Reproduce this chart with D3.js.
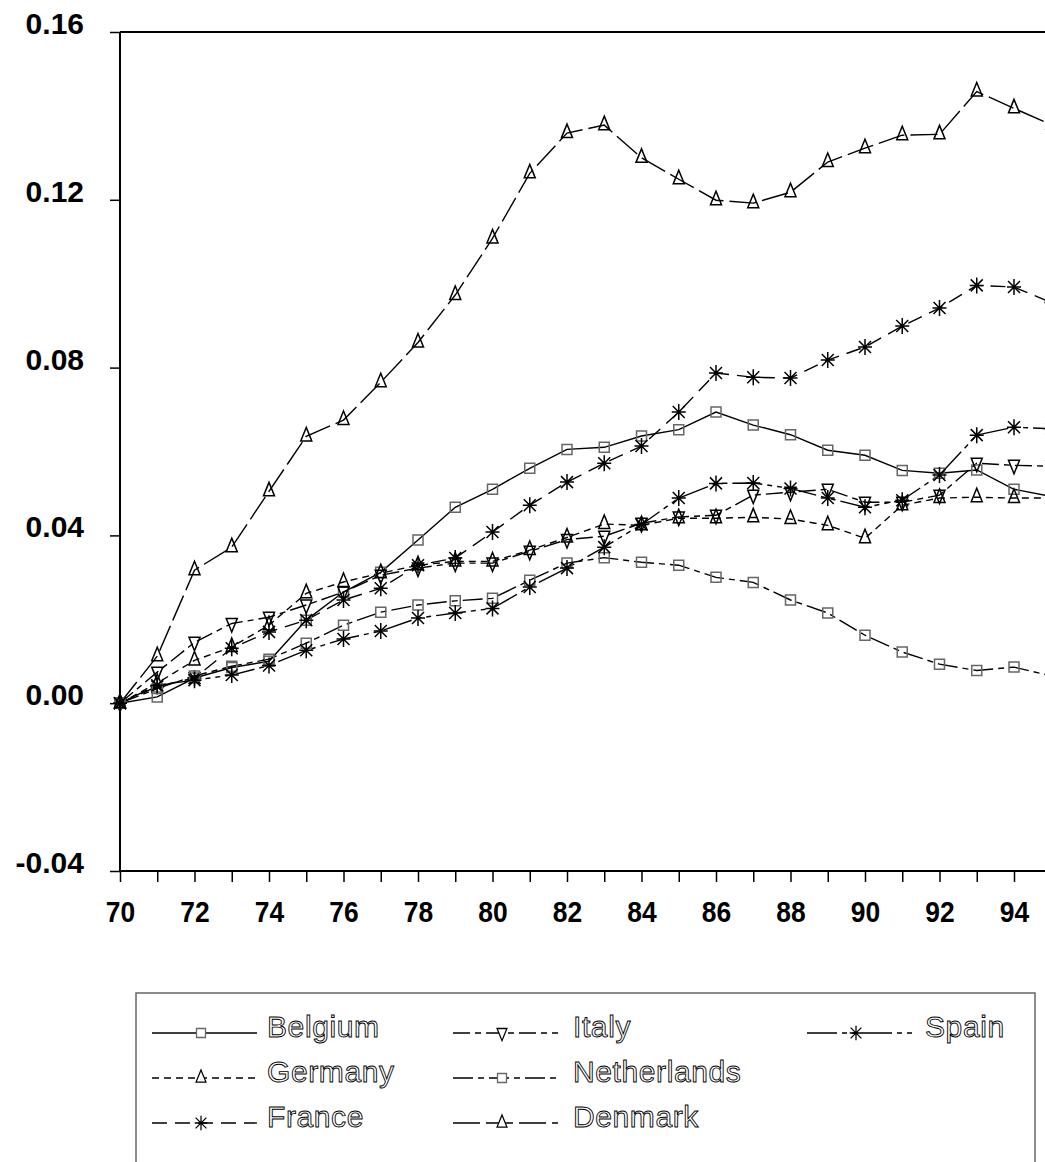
<!DOCTYPE html>
<html>
<head>
<meta charset="utf-8">
<script src="https://cdn.jsdelivr.net/npm/d3@7"></script>
<style>
  html, body { margin: 0; padding: 0; background: #fff; overflow: hidden; }
  svg { display: block; }
</style>
</head>
<body>
<svg id="chart" width="1045" height="1162"></svg>
<script>
// ---- data ----
const years = d3.range(70, 96);
const xTickLabels = ["70","72","74","76","78","80","82","84","86","88","90","92","94"];
const yTickValues = [-0.04, 0.00, 0.04, 0.08, 0.12, 0.16];
const yTickLabels = ["-0.04","0.00","0.04","0.08","0.12","0.16"];

const belgium     = [0, 0.0015, 0.0060, 0.0085, 0.0100, 0.0198, 0.0265, 0.0312, 0.0389, 0.0467, 0.0510, 0.0560, 0.0605, 0.0610, 0.0637, 0.0652, 0.0694, 0.0663, 0.0640, 0.0603, 0.0591, 0.0555, 0.0548, 0.0556, 0.0510, 0.0493];
const germany     = [0, 0.0048, 0.0102, 0.0134, 0.0186, 0.0262, 0.0289, 0.0310, 0.0329, 0.0338, 0.0338, 0.0365, 0.0395, 0.0427, 0.0424, 0.0441, 0.0441, 0.0443, 0.0439, 0.0424, 0.0393, 0.0472, 0.0489, 0.0491, 0.0489, 0.0489];
const france      = [0, 0.0040, 0.0060, 0.0131, 0.0170, 0.0198, 0.0246, 0.0274, 0.0329, 0.0346, 0.0408, 0.0472, 0.0527, 0.0572, 0.0613, 0.0694, 0.0787, 0.0777, 0.0775, 0.0818, 0.0849, 0.0899, 0.0942, 0.0996, 0.0992, 0.0955];
const italy       = [0, 0.0074, 0.0145, 0.0190, 0.0205, 0.0234, 0.0265, 0.0305, 0.0322, 0.0334, 0.0334, 0.0362, 0.0390, 0.0398, 0.0429, 0.0444, 0.0448, 0.0496, 0.0503, 0.0510, 0.0479, 0.0479, 0.0496, 0.0572, 0.0567, 0.0565];
const netherlands = [0, 0.0035, 0.0065, 0.0088, 0.0105, 0.0143, 0.0186, 0.0217, 0.0234, 0.0244, 0.0250, 0.0293, 0.0334, 0.0347, 0.0336, 0.0329, 0.0300, 0.0288, 0.0246, 0.0215, 0.0162, 0.0122, 0.0093, 0.0078, 0.0086, 0.0065];
const denmark     = [0, 0.0112, 0.0317, 0.0372, 0.0505, 0.0636, 0.0675, 0.0765, 0.0860, 0.0973, 0.1108, 0.1263, 0.1359, 0.1378, 0.1300, 0.1249, 0.1199, 0.1192, 0.1218, 0.1290, 0.1323, 0.1354, 0.1356, 0.1458, 0.1418, 0.1379];
const spain       = [0, 0.0043, 0.0055, 0.0067, 0.0090, 0.0126, 0.0153, 0.0172, 0.0203, 0.0215, 0.0226, 0.0277, 0.0322, 0.0372, 0.0426, 0.0489, 0.0524, 0.0525, 0.0512, 0.0489, 0.0467, 0.0484, 0.0544, 0.0639, 0.0658, 0.0654];

const seriesNames = ["Belgium","Germany","France","Italy","Netherlands","Denmark","Spain"];
const seriesValues = [belgium, germany, france, italy, netherlands, denmark, spain];

(function () {
const seriesStyle = {
  Belgium:     { dash: null,               marker: "square" },
  Germany:     { dash: "7,5",              marker: "up" },
  France:      { dash: "15,8",             marker: "star" },
  Italy:       { dash: "17,5,6,5",         marker: "down" },
  Netherlands: { dash: "20,5,6,5",         marker: "square" },
  Denmark:     { dash: "27,6",             marker: "up" },
  Spain:       { dash: "30,5,5,5,5,5",     marker: "star" }
};

const markerPaths = {
  square: "M-5,-5H5V5H-5Z",
  up: "M0,-9L5.5,4.5L-5.5,4.5Z",
  down: "M-5.5,-5L5.5,-5L0,8.5Z",
  star: "M0,-8V8M-7,0H7M-6,-6L6,6M-6,6L6,-6"
};

const svg = d3.select("#chart");
const mLeft = 120, mTop = 32, mBottom = 871;
const step = 37.25;

const x = d3.scaleLinear().domain([70, 96]).range([mLeft, mLeft + 26 * step]);
const y = d3.scaleLinear().domain([-0.04, 0.16]).range([mBottom, mTop]);

// frame
const g = svg.append("g");
g.append("line").attr("x1", mLeft).attr("x2", 1100).attr("y1", mTop).attr("y2", mTop)
  .attr("stroke", "#000").attr("stroke-width", 2);
g.append("line").attr("x1", mLeft).attr("x2", 1100).attr("y1", mBottom).attr("y2", mBottom)
  .attr("stroke", "#000").attr("stroke-width", 2);
g.append("line").attr("x1", mLeft).attr("x2", mLeft).attr("y1", mTop).attr("y2", mBottom)
  .attr("stroke", "#000").attr("stroke-width", 2);

// y axis
const yAxis = d3.axisLeft(y).tickValues(yTickValues).tickSize(10).tickPadding(26)
  .tickFormat((d, i) => yTickLabels[i]);
const yg = svg.append("g").attr("transform", `translate(${mLeft},0)`).call(yAxis);
yg.select(".domain").remove();
yg.selectAll(".tick line").attr("stroke", "#000").attr("stroke-width", 1.5);
yg.selectAll(".tick text")
  .attr("font-family", "'Liberation Sans', Arial, sans-serif")
  .attr("font-weight", "bold").attr("font-size", 30)
  .attr("fill", "#000")
  .attr("dy", "0.05em");

// x axis
const xAxis = d3.axisBottom(x).tickValues(years).tickSize(11).tickPadding(12)
  .tickFormat(d => (xTickLabels.indexOf(String(d)) >= 0 ? String(d) : ""));
const xg = svg.append("g").attr("transform", `translate(0,${mBottom})`).call(xAxis);
xg.select(".domain").remove();
xg.selectAll(".tick line").attr("stroke", "#000").attr("stroke-width", 1.5);
xg.selectAll(".tick text")
  .attr("font-family", "'Liberation Sans', Arial, sans-serif")
  .attr("font-weight", "bold").attr("font-size", 30)
  .attr("fill", "#000")
  .attr("dy", "0.95em")
  .attr("transform", "scale(0.88,1)");

// lines
const line = d3.line().x((d, i) => x(years[i])).y(d => y(d));
const plot = svg.append("g");
seriesNames.forEach((name, k) => {
  const st = seriesStyle[name];
  plot.append("path")
    .datum(seriesValues[k])
    .attr("d", line)
    .attr("fill", "none")
    .attr("stroke", "#000")
    .attr("stroke-width", 1.4)
    .attr("stroke-dasharray", st.dash);
});
seriesNames.forEach((name, k) => {
  const st = seriesStyle[name];
  plot.selectAll(null)
    .data(seriesValues[k])
    .enter().append("path")
    .attr("transform", (d, i) => `translate(${x(years[i])},${y(d)})`)
    .attr("d", markerPaths[st.marker])
    .attr("fill", "none")
    .attr("stroke", st.marker === "square" ? "#666" : "#000")
    .attr("stroke-width", 1.5);
});

// legend
const legend = svg.append("g");
legend.append("rect").attr("x", 136).attr("y", 993).attr("width", 899).attr("height", 220)
  .attr("fill", "#fff").attr("stroke", "#666").attr("stroke-width", 1.5);

const legendPos = {
  Belgium:     [152, 1033], Germany: [152, 1078], France: [152, 1123],
  Italy:       [453, 1033], Netherlands: [453, 1078], Denmark: [453, 1123],
  Spain:       [807, 1033]
};
seriesNames.forEach(name => {
  const [lx, ly] = legendPos[name];
  const st = seriesStyle[name];
  const lg = legend.append("g").attr("transform", `translate(${lx},${ly})`);
  lg.append("line").attr("x1", 0).attr("x2", 105).attr("y1", 0).attr("y2", 0)
    .attr("stroke", "#000").attr("stroke-width", 1.3)
    .attr("stroke-dasharray", st.dash);
  lg.append("path").attr("transform", "translate(49,0) scale(0.9)")
    .attr("d", markerPaths[st.marker])
    .attr("fill", "#fff")
    .attr("stroke", st.marker === "square" ? "#666" : "#000")
    .attr("stroke-width", 1.4);
  lg.append("text").attr("x", name === "Spain" ? 118 : (lx < 300 ? 115 : 120))
    .attr("y", 4)
    .attr("font-family", "'Liberation Sans', Arial, sans-serif")
    .attr("font-size", 30)
    .attr("letter-spacing", 0.6)
    .attr("fill", "#fff")
    .attr("stroke", "#000")
    .attr("stroke-width", 0.9)
    .text(name);
});
})();
</script>
</body>
</html>
